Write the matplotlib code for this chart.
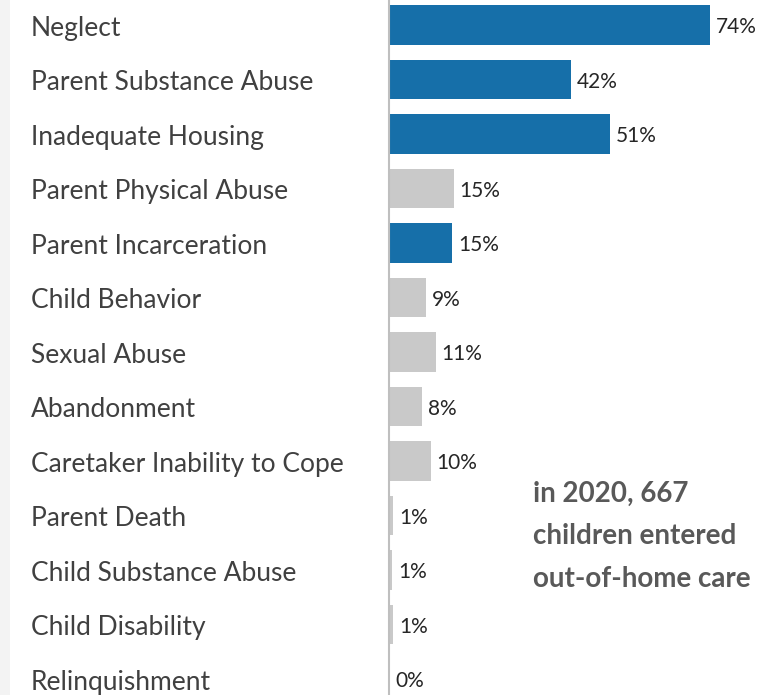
import matplotlib.pyplot as plt
from matplotlib.patches import Rectangle
from matplotlib.transforms import blended_transform_factory

# data
categories = ["Neglect", "Parent Substance Abuse", "Inadequate Housing",
              "Parent Physical Abuse", "Parent Incarceration", "Child Behavior",
              "Sexual Abuse", "Abandonment", "Caretaker Inability to Cope",
              "Parent Death", "Child Substance Abuse", "Child Disability",
              "Relinquishment"]
values = [74, 42, 51, 15, 14.6, 8.6, 10.8, 7.6, 9.6, 1, 0.8, 1, 0.2]
highlight = [True, True, True, False, True, False, False, False, False,
             False, False, False, False]
note = "in 2020, 667\nchildren entered\nout-of-home care"

blue = "#166fa9"
grey = "#c9c9c9"

W, H = 779, 695
fig = plt.figure(figsize=(W / 100, H / 100), dpi=100)
fig.patch.set_facecolor("white")

# light grey strip on the left edge
fig.patches.append(Rectangle((0, 0), 10 / W, 1, transform=fig.transFigure,
                             facecolor="#f3f3f3", edgecolor="none", zorder=0))

# rows: first centre at y=25px, step 54.5px
step = 54.5
top_px = 25 - step / 2
bot_px = top_px + step * len(categories)
x0_px = 389
px_per_unit = (710 - 389) / 74
ax = fig.add_axes([x0_px / W, 1 - bot_px / H, (W - x0_px) / W,
                   (bot_px - top_px) / H])
ax.set_xlim(0, (W - x0_px) / px_per_unit)
ax.set_ylim(len(categories) - 0.5, -0.5)
ax.set_facecolor("none")

ypos = list(range(len(categories)))
colors = [blue if h else grey for h in highlight]
ax.barh(ypos, values, height=0.73, color=colors, edgecolor="none")

for y, v in zip(ypos, values):
    ax.text(v + 1.3, y + 0.04, f"{v:.0f}%", va="center", ha="left",
            fontsize=15, color="#262626", family="Lato")

for s in ["top", "right", "bottom"]:
    ax.spines[s].set_visible(False)
ax.spines["left"].set_color("#bfbfbf")
ax.spines["left"].set_linewidth(1.5)
ax.set_xticks([])
ax.set_yticks([])

# category labels, left aligned
lab_tr = blended_transform_factory(fig.transFigure, ax.transData)
for y, c in zip(ypos, categories):
    ax.text(31 / W, y + 0.06, c, transform=lab_tr, ha="left", va="center",
            fontsize=19, color="#404040", family="Lato", clip_on=False)

fig.text(533 / W, 1 - 481 / H, note, ha="left", va="top", fontsize=20,
         fontweight="bold", color="#595959", family="Lato", linespacing=1.78)

fig.savefig("out.png", dpi=100)
